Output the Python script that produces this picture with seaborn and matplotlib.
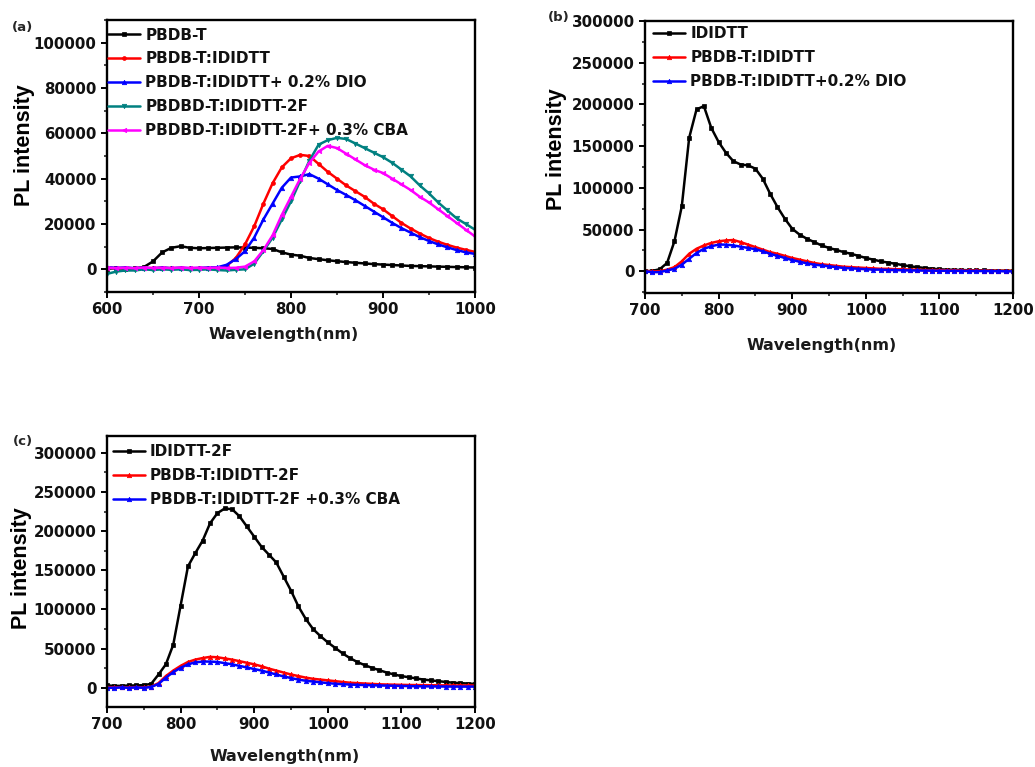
import numpy as np
import matplotlib
matplotlib.use("Agg")
import matplotlib.pyplot as plt
from matplotlib.ticker import MultipleLocator, FormatStrFormatter
import seaborn as sns

# ---------------- data ----------------
# panel (a)
wl_a = np.arange(600, 1001, 10)
a_pbdbt = [300, 500, 300, 400, 1000, 3500, 7500, 9500, 10200, 9500,
           9300, 9400, 9500, 9600, 9700, 9600, 9500, 9300, 9000, 7500,
           6500, 6000, 5000, 4500, 4000, 3600, 3200, 2900, 2600, 2300,
           2100, 1900, 1700, 1500, 1400, 1300, 1200, 1100, 1000, 900, 800]
a_ididtt = [800, 500, 700, 400, 600, 500, 700, 500, 600, 400, 500, 600, 700,
            1500, 5000, 11000, 19000, 29000, 38000, 45000, 49000, 50500, 50000,
            46500, 43000, 40000, 37000, 34500, 32000, 29000, 26500, 23500, 20500,
            18000, 15800, 13800, 12200, 10800, 9600, 8600, 7700]
a_dio = [1000, 600, 800, 500, 700, 400, 800, 500, 700, 500, 600, 800, 900,
         2000, 4500, 8000, 14000, 22000, 29000, 36000, 40500, 41000, 42000,
         40000, 37500, 35000, 32800, 30500, 28000, 25500, 23000, 20500, 18200,
         16200, 14200, 12500, 11000, 9700, 8500, 7500, 6800]
a_2f = [-2000, -1000, -500, -500, 0, -300, 0, -200, 0, -300, -200, 0, -300, -500, -200,
        0, 2500, 8000, 14000, 22000, 30000, 39000, 48000, 55000, 57000,
        58000, 57500, 55500, 53500, 51500, 49500, 47000, 44000, 41000, 37000,
        33500, 29500, 26000, 22500, 20000, 17500]
a_cba = [800, 500, 700, 500, 800, 600, 700, 500, 800, 600, 700, 600, 800, 600, 700,
         1200, 3500, 8500, 15000, 24000, 32000, 40000, 47000, 52000, 54500,
         53500, 51000, 48500, 46000, 44000, 42500, 40000, 37500, 35000, 32000,
         29500, 26500, 23500, 20500, 17500, 14500]
labels_a = ["PBDB-T", "PBDB-T:IDIDTT", "PBDB-T:IDIDTT+ 0.2% DIO",
            "PBDBD-T:IDIDTT-2F", "PBDBD-T:IDIDTT-2F+ 0.3% CBA"]

# panel (b)
wl_b = np.arange(700, 1201, 10)
b_ididtt = [0, 500, 2500, 10000, 36000, 78000, 160000, 194000, 198000, 172000,
            155000, 142000, 132000, 128000, 127000, 123000, 111000, 93000, 77000, 63000,
            51000, 44000, 39000, 35000, 31000, 28000, 25600, 23000, 21000, 18500,
            16000, 14000, 12000, 10500, 9000, 7500, 6000, 5000, 4000, 3200,
            2400, 2000, 1800, 1500, 1300, 1100, 1000, 800, 700, 600, 500]
b_blend = [500, 0, 0, 2000, 5000, 12000, 21000, 27000, 31000, 34000,
           36000, 37000, 37500, 35000, 32000, 29000, 26000, 23000, 21000, 18500,
           16000, 14000, 12000, 10000, 8500, 7500, 6500, 5500, 5000, 4500,
           4000, 3500, 3000, 3000, 2500, 2500, 2000, 2000, 1500, 1500,
           1500, 1200, 1200, 1000, 1000, 1000, 800, 800, 600, 600, 500]
b_dio = [0, -1000, -1000, 1000, 3000, 8000, 15000, 22000, 27000, 30000,
         32000, 32000, 31000, 29500, 28000, 26500, 24000, 21000, 18500, 16000,
         13500, 11500, 9500, 8000, 7000, 6000, 5000, 4000, 3500, 3000,
         2500, 2000, 2000, 1500, 1500, 1200, 1000, 1000, 800, 800,
         600, 600, 500, 500, 400, 300, 300, 200, 200, 0, 0]
labels_b = ["IDIDTT", "PBDB-T:IDIDTT", "PBDB-T:IDIDTT+0.2% DIO"]

# panel (c)
wl_c = np.arange(700, 1201, 10)
c_2f = [3000, 2500, 2500, 3000, 3000, 3500, 5000, 17000, 30000, 55000,
        105000, 155000, 172000, 188000, 210000, 223000, 229000, 228000, 219000, 206000,
        193000, 180000, 170000, 160000, 142000, 124000, 104000, 88000, 75000, 66000,
        58000, 51000, 44000, 38000, 33000, 29000, 25500, 22500, 19500, 17000,
        15000, 13500, 12000, 10500, 9500, 8500, 7500, 6500, 6000, 5500, 5000]
c_blend = [1000, 500, 1000, 500, 1000, 500, 1500,
           6000, 15000, 22000, 28000, 33000, 36000, 38000, 39500, 39000, 37500,
           36000, 34000, 32000, 30000, 27500, 24500, 22000, 19500, 17000, 15000,
           13000, 11500, 10500, 9500, 8500, 7500, 6500, 6000, 5500, 5000,
           4500, 4200, 4000, 3800, 3600, 3500, 3400, 3300, 3200, 3100,
           3000, 3000, 3000, 3000]
c_cba = [0, 0, 500, 0, 500, 0, 1000,
         5000, 13000, 20000, 25500, 30000, 32500, 33500, 33500, 33000, 31500,
         30000, 28000, 26000, 24000, 22000, 19500, 17000, 14500, 12500, 10500,
         9000, 8000, 7000, 6000, 5200, 4600, 4200, 3800, 3500, 3200,
         3000, 2800, 2600, 2400, 2200, 2000, 1900, 1800, 1700, 1600,
         1600, 1500, 1500, 1500]
labels_c = ["IDIDTT-2F", "PBDB-T:IDIDTT-2F", "PBDB-T:IDIDTT-2F +0.3% CBA"]

# ---------------- style ----------------
sns.set_theme(style="ticks")
plt.rcParams['font.family'] = ['DejaVu Sans']
plt.rcParams['axes.linewidth'] = 1.7
plt.rcParams['xtick.direction'] = 'out'
plt.rcParams['ytick.direction'] = 'out'

fig = plt.figure(figsize=(10.35, 7.67), dpi=100)
W, H = 1035.0, 767.0
ax_a = fig.add_axes([107 / W, 1 - 292 / H, 368 / W, 272 / H])
ax_b = fig.add_axes([645 / W, 1 - 293 / H, 368 / W, 272 / H])
ax_c = fig.add_axes([107 / W, 1 - 707 / H, 368 / W, 271 / H])

LW = 1.8


def draw(ax, x, y, color, marker, label, ms=3.2):
    sns.lineplot(x=x, y=y, ax=ax, color=color, marker=marker, markersize=ms,
                 markeredgewidth=0.5, markeredgecolor=color, linewidth=LW,
                 label=label, estimator=None, sort=False)


def style(ax, xlim, xmaj, xmin, ylim, ymaj, ymin, legend_xy, xlab_xy, ylab_xy):
    ax.set_xlim(*xlim)
    ax.set_ylim(*ylim)
    ax.xaxis.set_major_locator(MultipleLocator(xmaj))
    ax.xaxis.set_minor_locator(MultipleLocator(xmin))
    ax.yaxis.set_major_locator(MultipleLocator(ymaj))
    ax.yaxis.set_minor_locator(MultipleLocator(ymin))
    ax.yaxis.set_major_formatter(FormatStrFormatter('%d'))
    ax.xaxis.set_major_formatter(FormatStrFormatter('%d'))
    ax.tick_params(which='major', length=4.5, width=1.4, labelsize=10.8,
                   colors='black', pad=3, top=False, right=False)
    ax.tick_params(which='minor', length=2.5, width=1.2, top=False, right=False)
    for lab in ax.get_xticklabels() + ax.get_yticklabels():
        lab.set_fontweight('bold')
        lab.set_color('#111111')
    for s in ax.spines.values():
        s.set_visible(True)
        s.set_color('black')
        s.set_linewidth(1.7)
    ax.set_xlabel("Wavelength(nm)", fontsize=11.5, fontweight='bold', color='#1a1a1a')
    ax.set_ylabel("PL intensity", fontsize=15.5, fontweight='bold',
                  family=['Liberation Sans', 'DejaVu Sans'], color='black')
    ax.xaxis.set_label_coords(*xlab_xy)
    ax.yaxis.set_label_coords(*ylab_xy)
    leg = ax.legend(loc='upper left', bbox_to_anchor=legend_xy, frameon=False,
                    prop={'size': 11, 'weight': 'bold'}, handlelength=2.1,
                    handletextpad=0.33, labelspacing=0.58, borderpad=0,
                    borderaxespad=0, numpoints=1)
    for t in leg.get_texts():
        t.set_color('#111111')
    ax.grid(False)


# panel (a)
draw(ax_a, wl_a, a_pbdbt, 'black', 's', labels_a[0])
draw(ax_a, wl_a, a_ididtt, '#ff0000', 'o', labels_a[1], ms=2.8)
draw(ax_a, wl_a, a_dio, '#0000ff', '^', labels_a[2])
draw(ax_a, wl_a, a_2f, '#008080', 'v', labels_a[3])
draw(ax_a, wl_a, a_cba, '#ff00ff', '<', labels_a[4])
style(ax_a, (600, 1000), 100, 50, (-10000, 110000), 20000, 10000,
      (0.003, 0.972), (0.481, -0.129), (-0.196, 0.540))

# panel (b)
draw(ax_b, wl_b, b_ididtt, 'black', 's', labels_b[0])
draw(ax_b, wl_b, b_blend, '#ff0000', '^', labels_b[1])
draw(ax_b, wl_b, b_dio, '#0000ff', '^', labels_b[2])
style(ax_b, (700, 1200), 100, 50, (-26000, 300000), 50000, 25000,
      (0.022, 0.981), (0.481, -0.165), (-0.212, 0.529))

# panel (c)
draw(ax_c, wl_c, c_2f, 'black', 's', labels_c[0])
draw(ax_c, wl_c, c_blend, '#ff0000', '^', labels_c[1])
draw(ax_c, wl_c, c_cba, '#0000ff', '^', labels_c[2])
style(ax_c, (700, 1200), 100, 50, (-24500, 321500), 50000, 25000,
      (0.016, 0.969), (0.484, -0.155), (-0.204, 0.513))

# panel tags
fig.text(12 / W, 1 - 28 / H, "(a)", fontsize=9.5, fontweight='bold', ha='left', va='center')
fig.text(548 / W, 1 - 18 / H, "(b)", fontsize=9.5, fontweight='bold', ha='left', va='center')
fig.text(13 / W, 1 - 442 / H, "(c)", fontsize=9.5, fontweight='bold', ha='left', va='center')

fig.savefig("out.png", dpi=100)
